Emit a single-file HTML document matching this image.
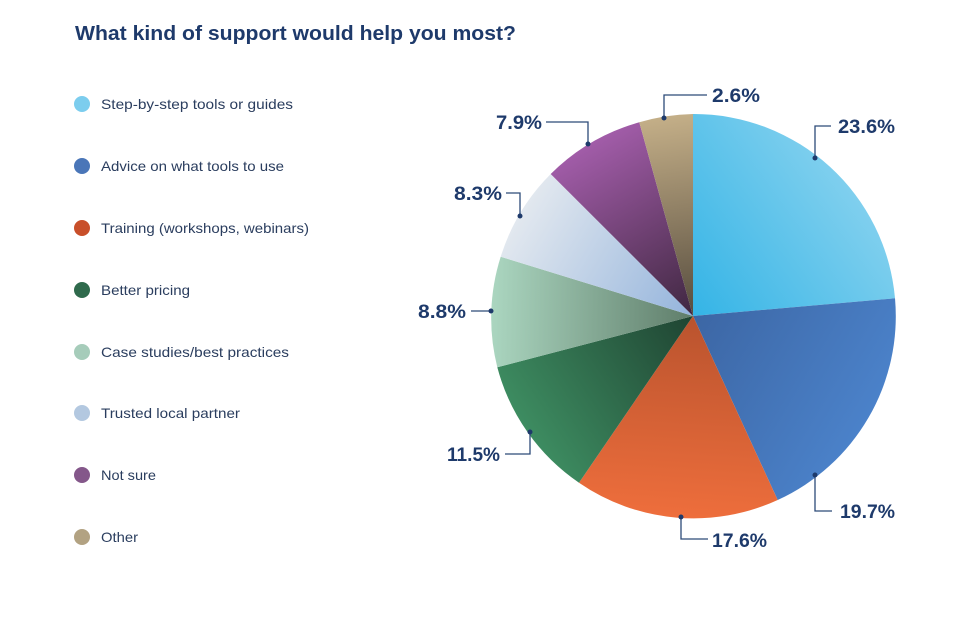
<!DOCTYPE html>
<html><head><style>
body{margin:0;background:#fff;}
svg{display:block;font-family:"Liberation Sans",sans-serif;}
</style></head><body>
<svg width="961" height="618" viewBox="0 0 961 618">
<defs>
<linearGradient id="g1" gradientUnits="userSpaceOnUse" x1="693" y1="316" x2="880" y2="180"><stop offset="0" stop-color="#34b4e6"/><stop offset="1" stop-color="#8ad3ef"/></linearGradient>
<linearGradient id="g2" gradientUnits="userSpaceOnUse" x1="693" y1="316" x2="870" y2="420"><stop offset="0" stop-color="#3c66a4"/><stop offset="1" stop-color="#4b82ca"/></linearGradient>
<linearGradient id="g3" gradientUnits="userSpaceOnUse" x1="693" y1="316" x2="680" y2="518"><stop offset="0" stop-color="#b9532e"/><stop offset="1" stop-color="#ee6e3c"/></linearGradient>
<linearGradient id="g4" gradientUnits="userSpaceOnUse" x1="693" y1="316" x2="520" y2="430"><stop offset="0" stop-color="#1f4432"/><stop offset="1" stop-color="#3e8e62"/></linearGradient>
<linearGradient id="g5" gradientUnits="userSpaceOnUse" x1="693" y1="316" x2="491" y2="311"><stop offset="0" stop-color="#5f7d6a"/><stop offset="1" stop-color="#abd6c0"/></linearGradient>
<linearGradient id="g6" gradientUnits="userSpaceOnUse" x1="693" y1="316" x2="520" y2="215"><stop offset="0" stop-color="#94b4dc"/><stop offset="1" stop-color="#e2e8ef"/></linearGradient>
<linearGradient id="g7" gradientUnits="userSpaceOnUse" x1="693" y1="316" x2="590" y2="140"><stop offset="0" stop-color="#3f2740"/><stop offset="1" stop-color="#a35daa"/></linearGradient>
<linearGradient id="g8" gradientUnits="userSpaceOnUse" x1="693" y1="316" x2="665" y2="116"><stop offset="0" stop-color="#564c3e"/><stop offset="1" stop-color="#c4af88"/></linearGradient>
</defs>
<text x="75" y="40" font-size="20" font-weight="bold" fill="#1e3a6b" textLength="441" lengthAdjust="spacingAndGlyphs">What kind of support would help you most?</text>
<g font-size="14" fill="#2a3d5e">
<circle cx="82" cy="104" r="8" fill="#7ccdee"/><text x="101" y="109" textLength="192" lengthAdjust="spacingAndGlyphs">Step-by-step tools or guides</text>
<circle cx="82" cy="166" r="8" fill="#4a76b8"/><text x="101" y="171" textLength="183" lengthAdjust="spacingAndGlyphs">Advice on what tools to use</text>
<circle cx="82" cy="228" r="8" fill="#c84f2a"/><text x="101" y="233" textLength="208" lengthAdjust="spacingAndGlyphs">Training (workshops, webinars)</text>
<circle cx="82" cy="290" r="8" fill="#2f6a4c"/><text x="101" y="295" textLength="89" lengthAdjust="spacingAndGlyphs">Better pricing</text>
<circle cx="82" cy="352" r="8" fill="#a6ccba"/><text x="101" y="357" textLength="188" lengthAdjust="spacingAndGlyphs">Case studies/best practices</text>
<circle cx="82" cy="413" r="8" fill="#b3c8e0"/><text x="101" y="418" textLength="139" lengthAdjust="spacingAndGlyphs">Trusted local partner</text>
<circle cx="82" cy="475" r="8" fill="#84578a"/><text x="101" y="480" textLength="55" lengthAdjust="spacingAndGlyphs">Not sure</text>
<circle cx="82" cy="537" r="8" fill="#b2a282"/><text x="101" y="542" textLength="37" lengthAdjust="spacingAndGlyphs">Other</text>
</g>
<g>
<path d="M693,316 L693,114 A202,202 0 0 1 895,298.3 Z" fill="url(#g1)"/>
<path d="M693,316 L895,298.3 A202,202 0 0 1 777.7,500 Z" fill="url(#g2)"/>
<path d="M693,316 L777.7,500 A202,202 0 0 1 579,482.7 Z" fill="url(#g3)"/>
<path d="M693,316 L579,482.7 A202,202 0 0 1 497.3,367.3 Z" fill="url(#g4)"/>
<path d="M693,316 L497.3,367.3 A202,202 0 0 1 500.7,256.7 Z" fill="url(#g5)"/>
<path d="M693,316 L500.7,256.7 A202,202 0 0 1 550.7,174 Z" fill="url(#g6)"/>
<path d="M693,316 L550.7,174 A202,202 0 0 1 639.3,122.3 Z" fill="url(#g7)"/>
<path d="M693,316 L639.3,122.3 A202,202 0 0 1 693,114 Z" fill="url(#g8)"/>
</g>
<g stroke="#2c4a78" stroke-width="1.3" fill="none">
<polyline points="664,118 664,95 707,95"/>
<polyline points="588,144 588,122 546,122"/>
<polyline points="520,216 520,193 506,193"/>
<polyline points="491,311 471,311"/>
<polyline points="530,432 530,454 505,454"/>
<polyline points="681,517 681,539 708,539"/>
<polyline points="815,475 815,511 832,511"/>
<polyline points="815,158 815,126 831,126"/>
</g>
<g fill="#1e3a6b">
<circle cx="664" cy="118" r="2.5"/><circle cx="588" cy="144" r="2.5"/><circle cx="520" cy="216" r="2.5"/><circle cx="491" cy="311" r="2.5"/><circle cx="530" cy="432" r="2.5"/><circle cx="681" cy="517" r="2.5"/><circle cx="815" cy="475" r="2.5"/><circle cx="815" cy="158" r="2.5"/>
</g>
<g font-size="19" font-weight="bold" fill="#1e3a6b">
<text x="712" y="102" textLength="48" lengthAdjust="spacingAndGlyphs">2.6%</text>
<text x="496" y="129" textLength="46" lengthAdjust="spacingAndGlyphs">7.9%</text>
<text x="454" y="200" textLength="48" lengthAdjust="spacingAndGlyphs">8.3%</text>
<text x="418" y="318" textLength="48" lengthAdjust="spacingAndGlyphs">8.8%</text>
<text x="447" y="461" textLength="53" lengthAdjust="spacingAndGlyphs">11.5%</text>
<text x="712" y="547" textLength="55" lengthAdjust="spacingAndGlyphs">17.6%</text>
<text x="840" y="518" textLength="55" lengthAdjust="spacingAndGlyphs">19.7%</text>
<text x="838" y="133" textLength="57" lengthAdjust="spacingAndGlyphs">23.6%</text>
</g>
</svg>
</body></html>
